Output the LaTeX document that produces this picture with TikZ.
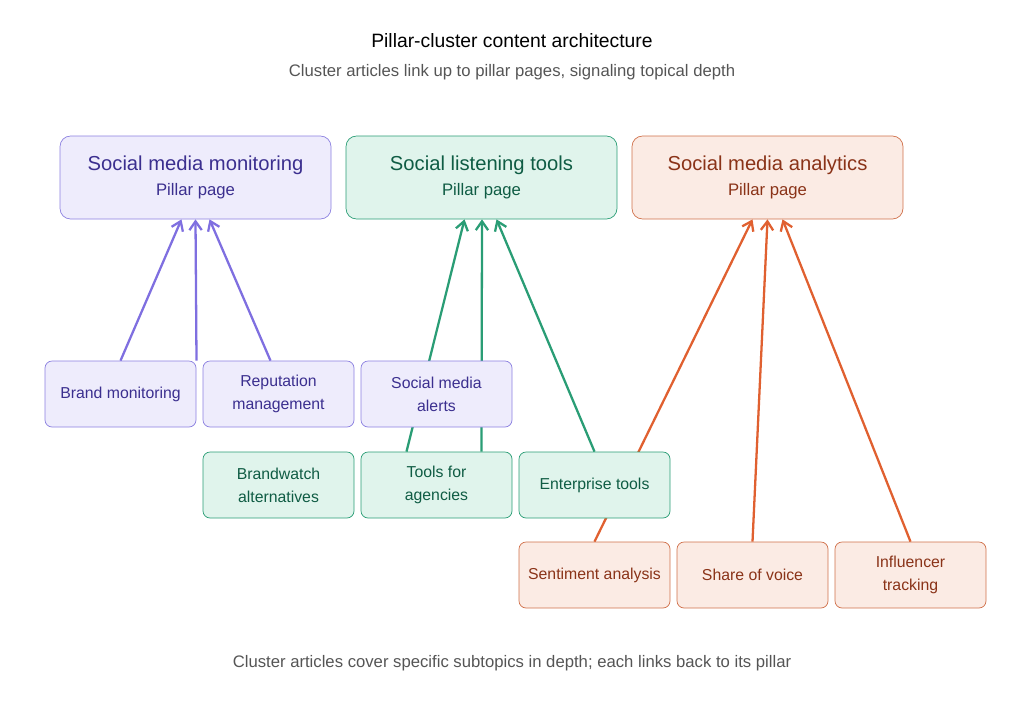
\documentclass[tikz,border=0pt]{standalone}
\usepackage{fontspec}
\setmainfont{Liberation Sans}
\usetikzlibrary{arrows.meta,calc,backgrounds}
\definecolor{pfill}{HTML}{EEECFC}
\definecolor{pdraw}{HTML}{8B80E0}
\definecolor{ptext}{HTML}{3B2F8F}
\definecolor{pline}{HTML}{7F6FE0}
\definecolor{gfill}{HTML}{E0F4EC}
\definecolor{gdraw}{HTML}{2A9D75}
\definecolor{gtext}{HTML}{0F5C44}
\definecolor{ofill}{HTML}{FBEBE4}
\definecolor{odraw}{HTML}{D0704A}
\definecolor{otext}{HTML}{8A3318}
\definecolor{oline}{HTML}{E06030}
\definecolor{grey}{HTML}{555555}
\tikzset{
  pillar/.style={rounded corners=6pt, minimum width=271*0.02cm, minimum height=83*0.02cm, align=center, font=\fontsize{11.5}{15}\selectfont},
  cluster/.style={rounded corners=4pt, minimum width=151*0.02cm, minimum height=66*0.02cm, align=center, font=\fontsize{9}{13}\selectfont},
  purple/.style={fill=pfill, draw=pdraw, text=ptext},
  green/.style={fill=gfill, draw=gdraw, text=gtext},
  orange/.style={fill=ofill, draw=odraw, text=otext},
  link/.style={-{Straight Barb[length=5pt,width=7pt]}, line width=1.3pt}
}
\begin{document}
\begin{tikzpicture}[x=0.02cm,y=-0.02cm]
\useasboundingbox (0,0) rectangle (1024,723);
% titles
\node[font=\fontsize{11}{13}\selectfont] (title) at (512,41) {Pillar-cluster content architecture};
\node[font=\fontsize{9.5}{12}\selectfont, text=grey] (sub) at (512,72) {Cluster articles link up to pillar pages, signaling topical depth};
\node[font=\fontsize{9.5}{12}\selectfont, text=grey] (foot) at (512,663) {Cluster articles cover specific subtopics in depth; each links back to its pillar};
% pillars
\node[pillar, purple] (mon) at (195.5,177.5) {Social media monitoring\\[-1pt]{\fontsize{9.5}{12}\selectfont Pillar page}};
\node[pillar, green] (lis) at (481.5,177.5) {Social listening tools\\[-1pt]{\fontsize{9.5}{12}\selectfont Pillar page}};
\node[pillar, orange] (ana) at (767.5,177.5) {Social media analytics\\[-1pt]{\fontsize{9.5}{12}\selectfont Pillar page}};
% clusters
\node[cluster, purple] (brand) at (120.5,394) {Brand monitoring};
\node[cluster, purple] (rep) at (278.5,394) {Reputation\\management};
\node[cluster, purple] (alert) at (436.5,394) {Social media\\alerts};
\node[cluster, green] (bw) at (278.5,485) {Brandwatch\\alternatives};
\node[cluster, green] (agen) at (436.5,485) {Tools for\\agencies};
\node[cluster, green] (ent) at (594.5,485) {Enterprise tools};
\node[cluster, orange] (sent) at (594.5,575) {Sentiment analysis};
\node[cluster, orange] (sov) at (752.5,575) {Share of voice};
\node[cluster, orange] (infl) at (910.5,575) {Influencer\\tracking};
% links
\begin{scope}[on background layer]
\draw[link, pline] (brand.north) -- ($(mon.south)+(-14,0)$);
\draw[link, pline] ($(rep.north)+(-82,0)$) -- (mon.south);
\draw[link, pline] ($(rep.north)+(-8,0)$) -- ($(mon.south)+(14,0)$);
\draw[link, gdraw] ($(agen.north)+(-30,0)$) -- ($(lis.south)+(-17,0)$);
\draw[link, gdraw] ($(agen.north)+(45,0)$) -- ($(lis.south)+(0.5,0)$);
\draw[link, gdraw] (ent.north) -- ($(lis.south)+(15,0)$);
\draw[link, oline] (sent.north) -- ($(ana.south)+(-15,0)$);
\draw[link, oline] (sov.north) -- ($(ana.south)+(0,0)$);
\draw[link, oline] (infl.north) -- ($(ana.south)+(15,0)$);
\end{scope}
\end{tikzpicture}
\end{document}
